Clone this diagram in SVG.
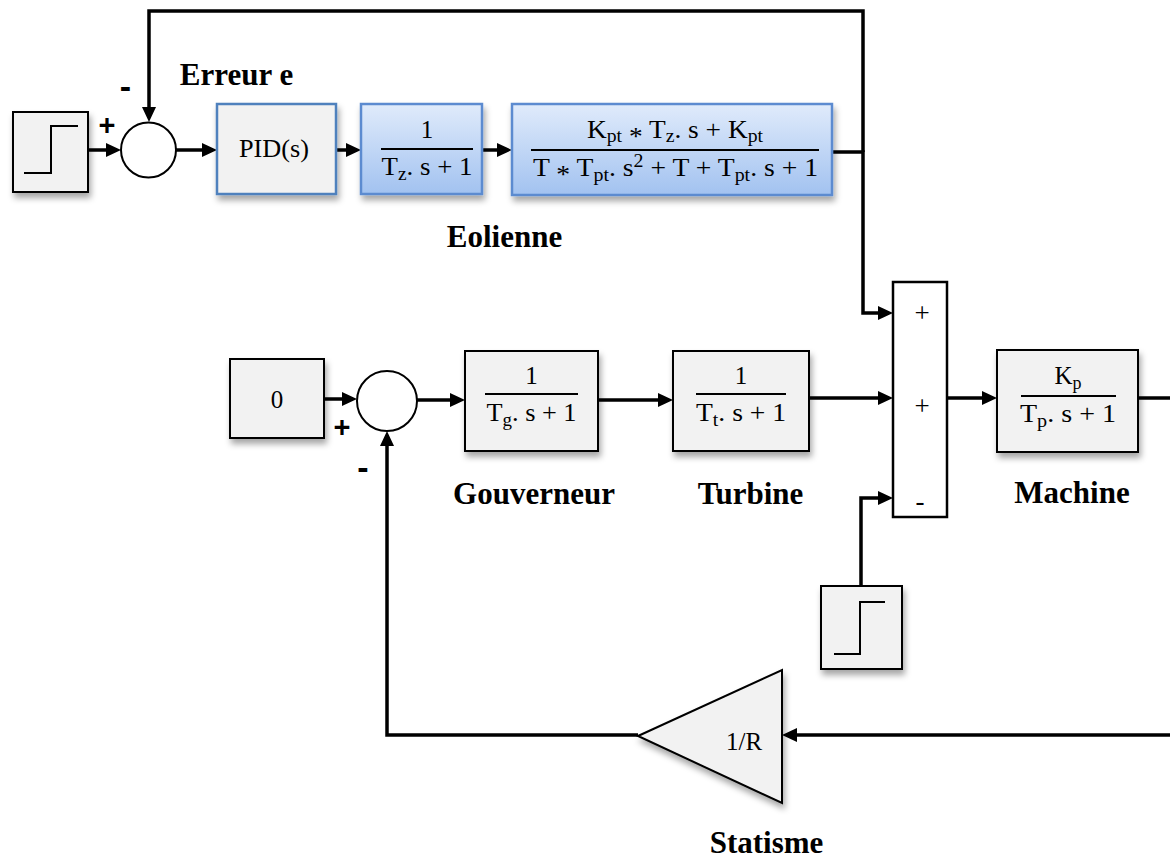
<svg xmlns="http://www.w3.org/2000/svg" width="1170" height="859" viewBox="0 0 1170 859">
  <defs>
    <linearGradient id="blueFill" x1="0" y1="0" x2="0" y2="1">
      <stop offset="0" stop-color="#e0ebfb"/>
      <stop offset="1" stop-color="#a2c2f0"/>
    </linearGradient>
    <filter id="shadow" x="-15%" y="-15%" width="135%" height="145%">
      <feDropShadow dx="2" dy="5" stdDeviation="3" flood-color="#000" flood-opacity="0.35"/>
    </filter>
    <marker id="arrow" markerUnits="userSpaceOnUse" markerWidth="16" markerHeight="14" refX="11" refY="7" orient="auto">
      <path d="M0,0 L15,7 L0,14 Z" fill="#000"/>
    </marker>
  </defs>
  <style>
    .box{fill:#f2f2f2;stroke:#000;stroke-width:2}
    .bbox{fill:#f2f2f2;stroke:#4f81bd;stroke-width:2.5}
    .blue{fill:url(#blueFill);stroke:#5b8bd0;stroke-width:2.5}
    .shadow{filter:url(#shadow)}
    .wire{fill:none;stroke:#000;stroke-width:3.5}
    .arr{marker-end:url(#arrow)}
    .stepline{fill:none;stroke:#000;stroke-width:2}
    .bar{stroke:#000;stroke-width:2}
    .label{font-family:"Liberation Serif","Times New Roman",serif;font-weight:bold;font-size:31px;text-anchor:middle;fill:#000}
    .math{font-family:"Liberation Serif","Times New Roman",serif;font-size:25px;text-anchor:middle;fill:#000}
    .sub{font-size:18px}
    .sign{font-family:"Liberation Sans",Arial,sans-serif;font-weight:bold;text-anchor:middle;fill:#000}
    .port{font-family:"Liberation Serif","Times New Roman",serif;font-size:27px;text-anchor:middle;fill:#000}
  </style>

  <!-- signal lines -->
  <g id="connectors">
    <path class="wire arr" d="M88,150 H117"/>
    <path class="wire arr" d="M176,150 H213"/>
    <path class="wire arr" d="M336,150 H357"/>
    <path class="wire arr" d="M482,150 H508"/>
    <path class="wire arr" d="M832,152 H863 V313 H889"/>
    <path class="wire arr" d="M863,152 V11 H149 V118"/>
    <path class="wire arr" d="M323,399 H353"/>
    <path class="wire arr" d="M417,400 H461"/>
    <path class="wire arr" d="M598,400 H669"/>
    <path class="wire arr" d="M809,398 H889"/>
    <path class="wire arr" d="M947,398 H993"/>
    <path class="wire" d="M1138,398 H1170"/>
    <path class="wire arr" d="M861,586 V498 H889"/>
    <path class="wire arr" d="M1170,735 H786"/>
    <path class="wire arr" d="M638,735 H387 V435"/>
  </g>

  <!-- wind turbine loop -->
  <g id="step1">
    <rect class="box shadow" x="13" y="112" width="75" height="80"/>
    <path class="stepline" d="M24,173 H51 V126 H78"/>
  </g>
  <g id="sum1">
    <circle cx="148.5" cy="150" r="27.5" fill="#fff" stroke="#000" stroke-width="2"/>
    <text class="sign" x="107" y="135" font-size="29">+</text>
    <text class="sign" x="125.5" y="98" font-size="34">-</text>
  </g>
  <text class="label" x="236.5" y="85">Erreur e</text>
  <g id="pid">
    <rect class="bbox shadow" x="217" y="104" width="119" height="90"/>
    <text class="math" x="274" y="157" font-size="28" textLength="70" lengthAdjust="spacingAndGlyphs">PID(s)</text>
  </g>
  <g id="tz">
    <rect class="blue shadow" x="361" y="104" width="121" height="90"/>
    <line class="bar" x1="381" y1="149" x2="473" y2="149"/>
    <text class="math" x="427" y="138">1</text>
    <text class="math" x="427" y="175" textLength="91" lengthAdjust="spacingAndGlyphs">T<tspan class="sub" dy="5">z</tspan><tspan dy="-5">. s + 1</tspan></text>
  </g>
  <g id="eolienne">
    <rect class="blue shadow" x="512" y="104" width="320" height="91"/>
    <line class="bar" x1="531" y1="150" x2="819" y2="150"/>
    <text class="math" x="675" y="138" textLength="176" lengthAdjust="spacingAndGlyphs">K<tspan class="sub" dy="4">pt</tspan><tspan dy="3"> *</tspan><tspan dy="-7"> T</tspan><tspan class="sub" dy="4">z</tspan><tspan dy="-4">. s + K</tspan><tspan class="sub" dy="4">pt</tspan></text>
    <text class="math" x="675.5" y="176" textLength="285" lengthAdjust="spacingAndGlyphs">T<tspan dy="7"> *</tspan><tspan dy="-7"> T</tspan><tspan class="sub" dy="5">pt</tspan><tspan dy="-5">. s</tspan><tspan class="sub" dy="-9">2</tspan><tspan dy="9"> + T + T</tspan><tspan class="sub" dy="5">pt</tspan><tspan dy="-5">. s + 1</tspan></text>
  </g>
  <text class="label" x="504.5" y="247">Eolienne</text>

  <!-- sum of powers -->
  <g id="sum3">
    <rect x="893" y="282" width="54" height="235" fill="#fff" stroke="#000" stroke-width="2.5"/>
    <text class="port" x="922" y="322">+</text>
    <text class="port" x="922" y="415">+</text>
    <text class="port" x="920" y="510">-</text>
  </g>

  <!-- frequency loop -->
  <g id="const0">
    <rect class="box shadow" x="230" y="359" width="94" height="79"/>
    <text class="math" x="277" y="408" font-size="27">0</text>
  </g>
  <g id="sum2">
    <circle cx="387" cy="401" r="30" fill="#fff" stroke="#000" stroke-width="2"/>
    <text class="sign" x="342" y="437" font-size="29">+</text>
    <text class="sign" x="363" y="479" font-size="34">-</text>
  </g>
  <g id="gouverneur">
    <rect class="box shadow" x="465" y="351" width="133" height="100"/>
    <line class="bar" x1="485" y1="394" x2="578" y2="394"/>
    <text class="math" x="531.5" y="384">1</text>
    <text class="math" x="531.5" y="421" textLength="90" lengthAdjust="spacingAndGlyphs">T<tspan class="sub" dy="5">g</tspan><tspan dy="-5">. s + 1</tspan></text>
  </g>
  <text class="label" x="534" y="504">Gouverneur</text>
  <g id="turbine">
    <rect class="box shadow" x="673" y="351" width="136" height="100"/>
    <line class="bar" x1="696" y1="394" x2="786" y2="394"/>
    <text class="math" x="741" y="384">1</text>
    <text class="math" x="741" y="421" textLength="90" lengthAdjust="spacingAndGlyphs">T<tspan class="sub" dy="5">t</tspan><tspan dy="-5">. s + 1</tspan></text>
  </g>
  <text class="label" x="750.5" y="504">Turbine</text>
  <g id="machine">
    <rect class="box shadow" x="997" y="350" width="141" height="102"/>
    <line class="bar" x1="1021" y1="396" x2="1116" y2="396"/>
    <text class="math" x="1068" y="384">K<tspan class="sub" dy="5">p</tspan></text>
    <text class="math" x="1068" y="422" textLength="96" lengthAdjust="spacingAndGlyphs">T<tspan class="sub" dy="5">p</tspan><tspan dy="-5">. s + 1</tspan></text>
  </g>
  <text class="label" x="1072" y="503">Machine</text>
  <g id="step2">
    <rect class="box shadow" x="821" y="586" width="81" height="83"/>
    <path class="stepline" d="M834,654 H860 V602 H885"/>
  </g>
  <g id="statisme">
    <polygon class="box shadow" points="638,736 782,670 782,803"/>
    <text class="math" x="744" y="750" font-size="26">1/R</text>
  </g>
  <text class="label" x="766.5" y="853">Statisme</text>
</svg>
